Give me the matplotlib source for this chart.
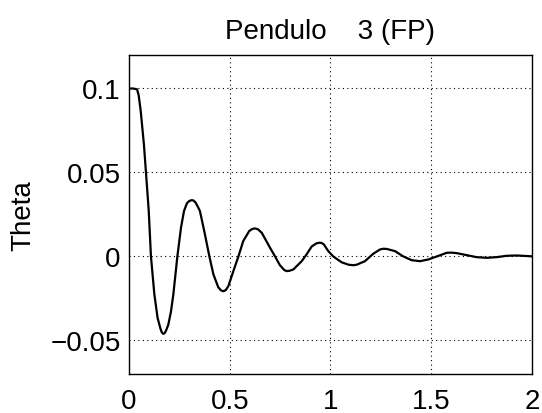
import matplotlib

matplotlib.use("Agg")
import matplotlib.pyplot as plt

# Values (time in s, angle in rad)
t = [0.0, 0.02, 0.04, 0.048, 0.058, 0.074, 0.084, 0.098, 0.109, 0.126, 0.142,
     0.155, 0.162, 0.170, 0.178, 0.186, 0.195, 0.208, 0.220, 0.240, 0.258, 0.273,
     0.288, 0.299, 0.309, 0.319, 0.330, 0.340, 0.352, 0.377, 0.399, 0.419, 0.443,
     0.456, 0.468, 0.480, 0.493, 0.518, 0.543, 0.567, 0.597, 0.612, 0.625, 0.640,
     0.659, 0.700, 0.725, 0.749, 0.770, 0.782, 0.797, 0.816, 0.857, 0.880, 0.907,
     0.930, 0.945, 0.955, 0.967, 0.989, 1.014, 1.056, 1.090, 1.113, 1.130, 1.171,
     1.212, 1.246, 1.262, 1.279, 1.320, 1.362, 1.403, 1.444, 1.485, 1.527, 1.577,
     1.600, 1.626, 1.676, 1.725, 1.775, 1.824, 1.874, 1.923, 2.0]
theta = [0.1, 0.1, 0.0995, 0.096, 0.0868, 0.0668, 0.0504, 0.0271, 0.0, -0.0227, -0.0366,
         -0.0425, -0.0450, -0.0461, -0.0455, -0.0435, -0.0406, -0.0330, -0.0227, 0.0, 0.0171, 0.0271,
         0.0318, 0.0330, 0.0335, 0.0334, 0.0322, 0.0300, 0.0271, 0.0131, 0.0, -0.0107, -0.0183,
         -0.0201, -0.0207, -0.0200, -0.0177, -0.0087, 0.0, 0.0092, 0.0152, 0.0164, 0.0167, 0.0162,
         0.0141, 0.0052, 0.0, -0.0052, -0.0080, -0.0087, -0.0085, -0.0077, -0.0028, 0.0010, 0.0060,
         0.0078, 0.0082, 0.0081, 0.0072, 0.0032, 0.0, -0.0035, -0.0049, -0.0052, -0.0049, -0.0028,
         0.0016, 0.0042, 0.0046, 0.0045, 0.0032, 0.0, -0.0022, -0.0028, -0.0018, 0.0, 0.0022,
         0.0023, 0.0020, 0.0008, -0.0004, -0.0008, -0.0004, 0.0004, 0.0006, 0.0001]

x_ticks = [0, 0.5, 1, 1.5, 2]
x_labels = ["0", "0.5", "1", "1.5", "2"]
y_ticks = [-0.05, 0, 0.05, 0.1]
y_labels = ["\u22120.05", "0", "0.05", "0.1"]

plt.rcParams["font.family"] = ["Liberation Sans", "DejaVu Sans"]

fig = plt.figure(figsize=(5.42, 4.14), dpi=100)
ax = fig.add_axes([0.238, 0.094, 0.7435, 0.771])

ax.plot(t, theta, color="black", linewidth=1.6)

ax.set_xlim(0, 2)
ax.set_ylim(-0.07, 0.12)
ax.set_xticks(x_ticks)
ax.set_xticklabels(x_labels)
ax.set_yticks(y_ticks)
ax.set_yticklabels(y_labels)
ax.tick_params(direction="in", length=0, labelsize=20)
ax.tick_params(axis="y", pad=6)
ax.tick_params(axis="x", pad=10)

ax.grid(True, color="black", linestyle=(0, (1, 3)), linewidth=0.8)
for s in ax.spines.values():
    s.set_linewidth(1.0)
    s.set_color("black")

ax.set_ylabel("Theta", fontsize=20, labelpad=10)
ax.set_title("Pendulo    3 (FP)", fontsize=20, pad=12)

fig.savefig("out.png", dpi=100, facecolor="white")
